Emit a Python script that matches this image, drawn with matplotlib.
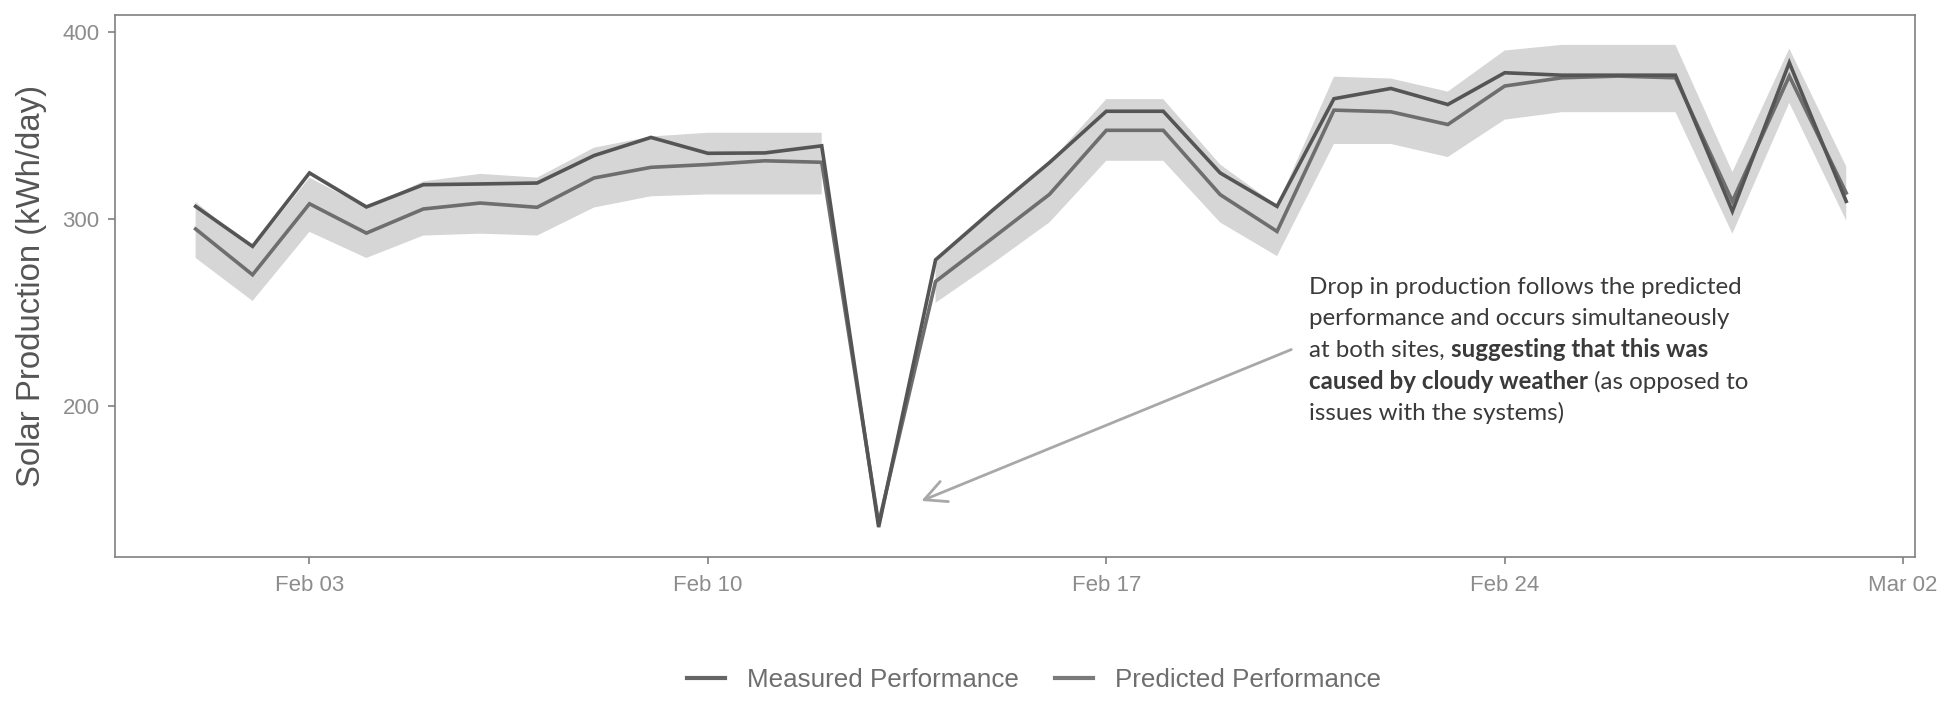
import matplotlib
matplotlib.use("Agg")
import matplotlib.pyplot as plt
import matplotlib.dates as mdates
import numpy as np
import pandas as pd

# ---------------- data ----------------
dates = pd.date_range("2020-02-01", "2020-03-01", freq="D")

measured = [306.6, 285.2, 324.5, 306.3, 318.2, 318.6, 319.1, 333.8, 343.5, 335.0,
            335.2, 339.0, 135.0, 278.0, 304.5, 330.0, 357.5, 357.5, 324.5, 306.6,
            364.2, 369.7, 361.1, 378.1, 376.8, 376.8, 376.8, 304.0, 383.5, 309.3]

predicted = [294.5, 270.0, 308.0, 292.3, 305.2, 308.4, 306.1, 321.8, 327.5, 329.0,
             331.0, 330.2, 137.0, 266.4, 289.6, 313.0, 347.3, 347.3, 312.9, 293.2,
             358.1, 357.2, 350.4, 371.0, 375.4, 376.3, 375.4, 309.3, 376.3, 313.8]

band_low = [279, 256, 293, 279, 291, 292, 291, 306, 312, 313,
            313, 313, np.nan, 255, 276, 298, 331, 331, 298, 280,
            340, 340, 333, 353, 357, 357, 357, 292, 362, 299]

band_high = [309, 284, 322, 306, 320, 324, 322, 338, 344, 346,
             346, 346, np.nan, 279, 304, 330, 364, 364, 329, 307,
             376, 375, 368, 390, 393, 393, 393, 325, 391, 328]

series_labels = ["Measured Performance", "Predicted Performance"]
y_ticks = [200, 300, 400]
x_ticks = ["2020-02-03", "2020-02-10", "2020-02-17", "2020-02-24", "2020-03-02"]

# ---------------- figure ----------------
W, H = 1954, 702
fig = plt.figure(figsize=(W / 100, H / 100), dpi=100)
fig.patch.set_facecolor("white")
ax = fig.add_axes([115 / W, 1 - 557 / H, (1915 - 115) / W, (557 - 15) / H])

ax.fill_between(dates, band_low, band_high, color="#d6d6d6", lw=0, zorder=1)
ax.plot(dates, measured, color="#555555", lw=2.6, zorder=3, label=series_labels[0],
        solid_joinstyle="miter")
ax.plot(dates, predicted, color="#6e6e6e", lw=2.6, zorder=2, label=series_labels[1],
        solid_joinstyle="miter")

ax.set_xlim(pd.Timestamp("2020-02-01") - pd.Timedelta(hours=34),
            pd.Timestamp("2020-03-01") + pd.Timedelta(hours=29))
ax.set_ylim(119, 409)

ax.set_yticks(y_ticks)
ax.set_xticks(pd.to_datetime(x_ticks))
ax.xaxis.set_major_formatter(mdates.DateFormatter("%b %d"))

for s in ax.spines.values():
    s.set_color("#808080")
    s.set_linewidth(1.2)

ax.tick_params(axis="both", colors="#808080", length=5, width=1.2,
               labelsize=16, labelcolor="#8c8c8c")
for lab in ax.get_xticklabels() + ax.get_yticklabels():
    lab.set_fontfamily("Liberation Sans")
ax.tick_params(axis="x", pad=8)
ax.tick_params(axis="y", pad=6)

ax.set_ylabel("Solar Production (kWh/day)", fontsize=23.7, color="#555555",
              fontfamily="Liberation Sans", labelpad=11)

# legend
leg = fig.legend(loc="center", bbox_to_anchor=(1034 / W, 1 - 680 / H), ncol=2,
                 frameon=False, handlelength=1.45, handletextpad=0.85,
                 columnspacing=1.4, prop={"family": "Liberation Sans", "size": 18.7})
for t in leg.get_texts():
    t.set_color("#6e6e6e")
leg.legend_handles[0].set_color("#666666")
leg.legend_handles[1].set_color("#7a7a7a")
for h in leg.legend_handles:
    h.set_linewidth(3)

# arrow
ax.annotate("", xy=(pd.Timestamp("2020-02-13 18:00"), 149),
            xytext=(pd.Timestamp("2020-02-20 06:00"), 230),
            arrowprops=dict(arrowstyle="->,head_length=0.6,head_width=0.3",
                            mutation_scale=26, lw=2, color="#a8a8a8",
                            shrinkA=0, shrinkB=0), zorder=4)

# annotation text (mixed regular / bold)
lines = [
    [("Drop in production follows the predicted", "normal")],
    [("performance and occurs simultaneously", "normal")],
    [("at both sites,", "normal"), ("suggesting that this was", "bold")],
    [("caused by cloudy weather", "bold"), ("(as opposed to", "normal")],
    [("issues with the systems)", "normal")],
]
x0 = 1309
baselines = [294, 325, 357, 389, 420]
fs = 17.4
txt_kw = dict(fontsize=fs, color="#3a3a3a", fontfamily="Lato", va="baseline", ha="left")
fig.canvas.draw()
renderer = fig.canvas.get_renderer()
space_px = fs * 100 / 72 * 0.26
for segs, yb in zip(lines, baselines):
    xcur = x0
    for text, weight in segs:
        t = fig.text(xcur / W, 1 - yb / H, text, fontweight=weight, **txt_kw)
        ext = t.get_window_extent(renderer)
        xcur = ext.x1 + space_px

fig.savefig("out.png", dpi=100, facecolor="white")
